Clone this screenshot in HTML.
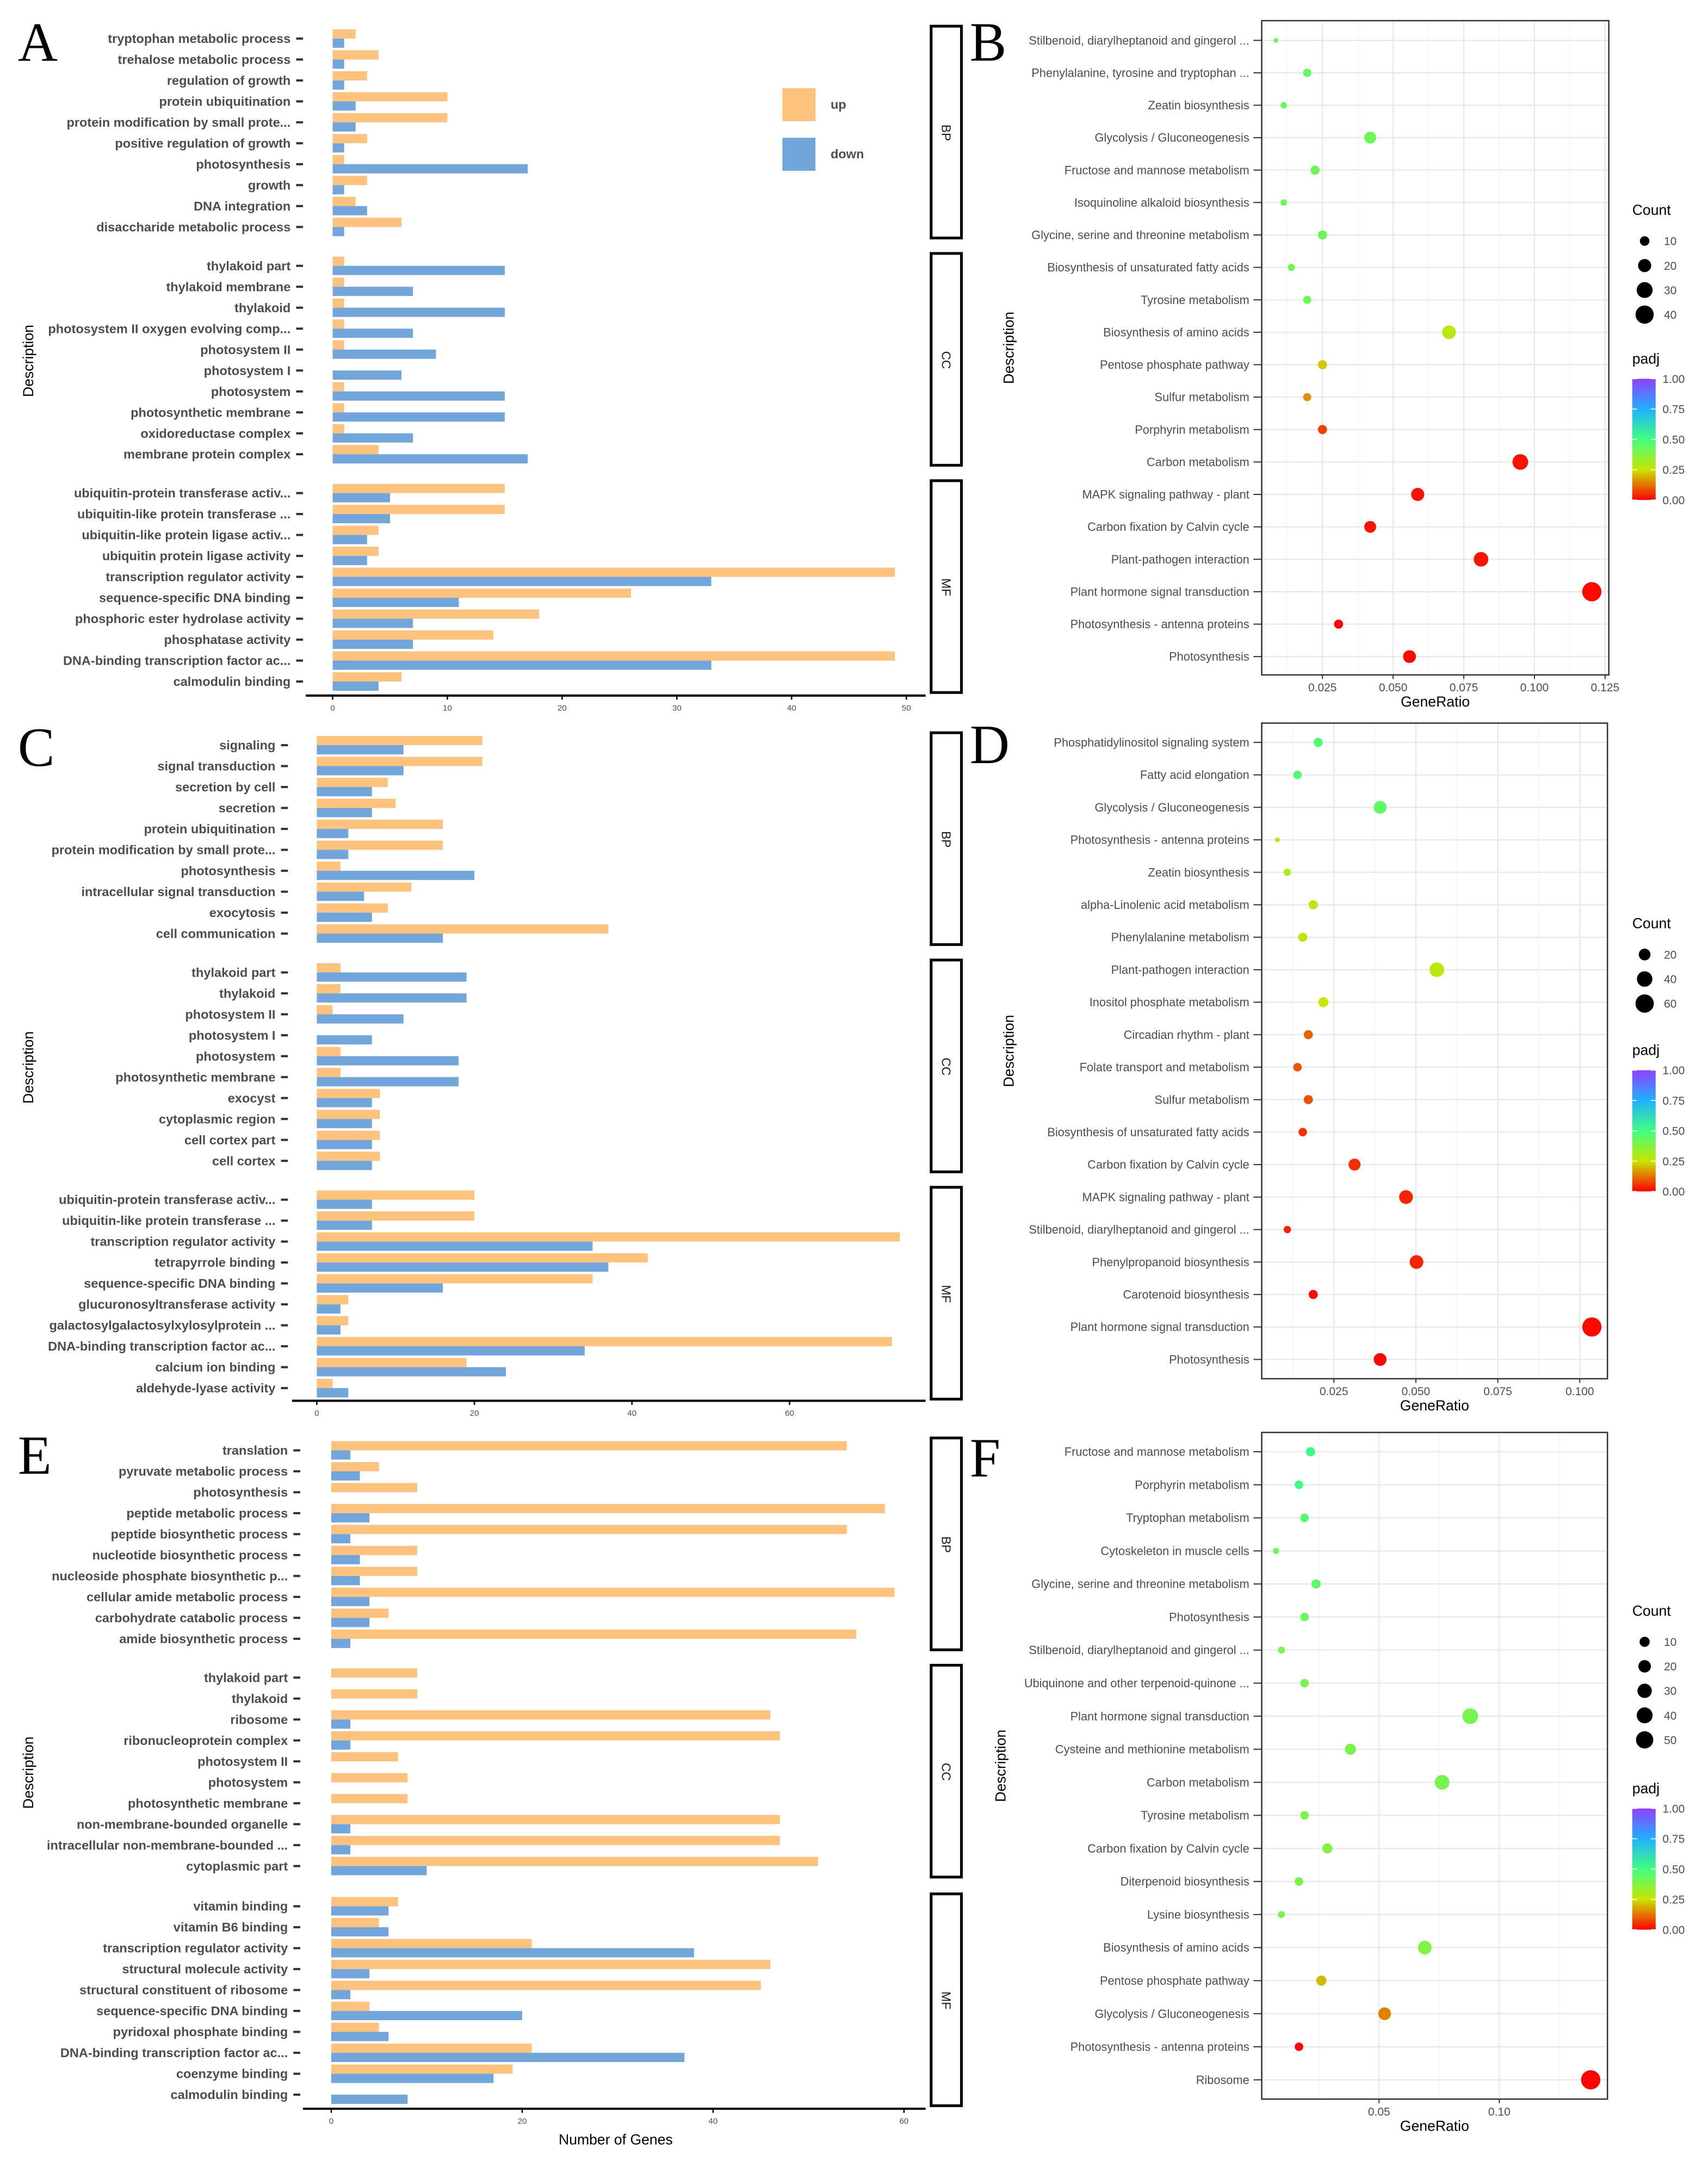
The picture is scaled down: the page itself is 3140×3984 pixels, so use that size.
<!DOCTYPE html>
<html><head><meta charset="utf-8"><title>GO and KEGG enrichment figure</title>
<style>
html,body{margin:0;padding:0;background:#fff;}
svg{display:block;}
.lbl{font-family:"Liberation Sans Narrow","Liberation Sans",sans-serif;font-weight:bold;font-size:9.3px;fill:#4d4d4d;}
.dl{font-family:"Liberation Sans",sans-serif;font-size:8.6px;fill:#4d4d4d;}
.tk{font-family:"Liberation Sans",sans-serif;font-size:6px;fill:#4d4d4d;}
.tk2{font-family:"Liberation Sans",sans-serif;font-size:8.3px;fill:#4d4d4d;}
.ttl{font-family:"Liberation Sans",sans-serif;font-size:10.5px;fill:#000;}
.let{font-family:"Liberation Serif",serif;font-size:40px;fill:#000;}
</style></head>
<body>
<svg id="fig" xmlns="http://www.w3.org/2000/svg" width="3140" height="3984" viewBox="0 0 1240 1573.3">
<defs>
<linearGradient id="padjGrad" x1="0" y1="1" x2="0" y2="0">
<stop offset="0" stop-color="#FF0000"/><stop offset="0.25" stop-color="#C8E600"/><stop offset="0.5" stop-color="#40FF80"/><stop offset="0.75" stop-color="#20B0FF"/><stop offset="1" stop-color="#9040FF"/>
</linearGradient>
</defs>
<rect x="0" y="0" width="1240" height="1573.3" fill="#fff"/>
</svg>
<script>
// ---------- Panel A data ----------
const aLabels = ["tryptophan metabolic process","trehalose metabolic process","regulation of growth","protein ubiquitination","protein modification by small prote...","positive regulation of growth","photosynthesis","growth","DNA integration","disaccharide metabolic process",
"thylakoid part","thylakoid membrane","thylakoid","photosystem II oxygen evolving comp...","photosystem II","photosystem I","photosystem","photosynthetic membrane","oxidoreductase complex","membrane protein complex",
"ubiquitin-protein transferase activ...","ubiquitin-like protein transferase ...","ubiquitin-like protein ligase activ...","ubiquitin protein ligase activity","transcription regulator activity","sequence-specific DNA binding","phosphoric ester hydrolase activity","phosphatase activity","DNA-binding transcription factor ac...","calmodulin binding"];
const aUp = [2,4,3,10,10,3,1,3,2,6, 1,1,1,1,1,0,1,1,1,4, 15,15,4,4,49,26,18,14,49,6];
const aDown = [1,1,1,2,2,1,17,1,3,1, 15,7,15,7,9,6,15,15,7,17, 5,5,3,3,33,11,7,7,33,4];
const aTicks = [0,10,20,30,40,50];
// ---------- Panel C data ----------
const cLabels = ["signaling","signal transduction","secretion by cell","secretion","protein ubiquitination","protein modification by small prote...","photosynthesis","intracellular signal transduction","exocytosis","cell communication",
"thylakoid part","thylakoid","photosystem II","photosystem I","photosystem","photosynthetic membrane","exocyst","cytoplasmic region","cell cortex part","cell cortex",
"ubiquitin-protein transferase activ...","ubiquitin-like protein transferase ...","transcription regulator activity","tetrapyrrole binding","sequence-specific DNA binding","glucuronosyltransferase activity","galactosylgalactosylxylosylprotein ...","DNA-binding transcription factor ac...","calcium ion binding","aldehyde-lyase activity"];
const cUp = [21,21,9,10,16,16,3,12,9,37, 3,3,2,0,3,3,8,8,8,8, 20,20,74,42,35,4,4,73,19,2];
const cDown = [11,11,7,7,4,4,20,6,7,16, 19,19,11,7,18,18,7,7,7,7, 7,7,35,37,16,3,3,34,24,4];
const cTicks = [0,20,40,60];
// ---------- Panel E data ----------
const eLabels = ["translation","pyruvate metabolic process","photosynthesis","peptide metabolic process","peptide biosynthetic process","nucleotide biosynthetic process","nucleoside phosphate biosynthetic p...","cellular amide metabolic process","carbohydrate catabolic process","amide biosynthetic process",
"thylakoid part","thylakoid","ribosome","ribonucleoprotein complex","photosystem II","photosystem","photosynthetic membrane","non-membrane-bounded organelle","intracellular non-membrane-bounded ...","cytoplasmic part",
"vitamin binding","vitamin B6 binding","transcription regulator activity","structural molecule activity","structural constituent of ribosome","sequence-specific DNA binding","pyridoxal phosphate binding","DNA-binding transcription factor ac...","coenzyme binding","calmodulin binding"];
const eUp = [54,5,9,58,54,9,9,59,6,55, 9,9,46,47,7,8,8,47,47,51, 7,5,21,46,45,4,5,21,19,0];
const eDown = [2,3,0,4,2,3,3,4,4,2, 0,0,2,2,0,0,0,2,2,10, 6,6,38,4,2,20,6,37,17,8];
const eTicks = [0,20,40,60];
const facetNames = ["BP","CC","MF"];
// ---------- Panel B data ----------
const bLabels = ["Stilbenoid, diarylheptanoid and gingerol ...","Phenylalanine, tyrosine and tryptophan ...","Zeatin biosynthesis","Glycolysis / Gluconeogenesis","Fructose and mannose metabolism","Isoquinoline alkaloid biosynthesis","Glycine, serine and threonine metabolism","Biosynthesis of unsaturated fatty acids","Tyrosine metabolism","Biosynthesis of amino acids","Pentose phosphate pathway","Sulfur metabolism","Porphyrin metabolism","Carbon metabolism","MAPK signaling pathway - plant","Carbon fixation by Calvin cycle","Plant-pathogen interaction","Plant hormone signal transduction","Photosynthesis - antenna proteins","Photosynthesis"];
const bRatio = [0.0085,0.0196,0.0113,0.0419,0.0224,0.0113,0.025,0.014,0.0196,0.0698,0.025,0.0196,0.025,0.095,0.0587,0.0419,0.0811,0.1203,0.0307,0.0558];
const bCount = [2,7,4,16,9,4,9,5,7,22,9,7,9,29,20,16,25,45,9,19];
const bPadj = [0.42,0.44,0.44,0.42,0.42,0.42,0.42,0.42,0.42,0.28,0.22,0.16,0.07,0.02,0.02,0.02,0.02,0.01,0.005,0.01];
const bXTicks = [0.025,0.05,0.075,0.1,0.125];
const bXTickLabels = ["0.025","0.050","0.075","0.100","0.125"];
const bLegCounts = [10,20,30,40];
// ---------- Panel D data ----------
const dLabels = ["Phosphatidylinositol signaling system","Fatty acid elongation","Glycolysis / Gluconeogenesis","Photosynthesis - antenna proteins","Zeatin biosynthesis","alpha-Linolenic acid metabolism","Phenylalanine metabolism","Plant-pathogen interaction","Inositol phosphate metabolism","Circadian rhythm - plant","Folate transport and metabolism","Sulfur metabolism","Biosynthesis of unsaturated fatty acids","Carbon fixation by Calvin cycle","MAPK signaling pathway - plant","Stilbenoid, diarylheptanoid and gingerol ...","Phenylpropanoid biosynthesis","Carotenoid biosynthesis","Plant hormone signal transduction","Photosynthesis"];
const dRatio = [0.0202,0.0139,0.0391,0.0078,0.0108,0.0187,0.0155,0.0564,0.0218,0.0172,0.0139,0.0172,0.0155,0.0313,0.047,0.0108,0.0502,0.0187,0.1037,0.0391];
const dCount = [10,8,25,1,5,10,10,35,13,10,8,10,8,21,30,5,30,10,67,25];
const dPadj = [0.47,0.47,0.45,0.3,0.3,0.28,0.28,0.27,0.25,0.11,0.09,0.09,0.05,0.05,0.04,0.04,0.04,0.015,0.01,0.005];
const dXTicks = [0.025,0.05,0.075,0.1];
const dXTickLabels = ["0.025","0.050","0.075","0.100"];
const dLegCounts = [20,40,60];
// ---------- Panel F data ----------
const fLabels = ["Fructose and mannose metabolism","Porphyrin metabolism","Tryptophan metabolism","Cytoskeleton in muscle cells","Glycine, serine and threonine metabolism","Photosynthesis","Stilbenoid, diarylheptanoid and gingerol ...","Ubiquinone and other terpenoid-quinone ...","Plant hormone signal transduction","Cysteine and methionine metabolism","Carbon metabolism","Tyrosine metabolism","Carbon fixation by Calvin cycle","Diterpenoid biosynthesis","Lysine biosynthesis","Biosynthesis of amino acids","Pentose phosphate pathway","Glycolysis / Gluconeogenesis","Photosynthesis - antenna proteins","Ribosome"];
const fRatio = [0.0215,0.0167,0.019,0.0071,0.0238,0.019,0.0094,0.019,0.0879,0.0381,0.0762,0.019,0.0285,0.0167,0.0094,0.069,0.026,0.0523,0.0167,0.138];
const fCount = [7,5,5,1,7,5,2,5,38,13,32,5,10,5,2,26,10,21,5,67];
const fPadj = [0.52,0.52,0.47,0.42,0.45,0.43,0.4,0.4,0.4,0.4,0.4,0.4,0.38,0.4,0.4,0.38,0.2,0.14,0.01,0.005];
const fXTicks = [0.05,0.1];
const fXTickLabels = ["0.05","0.10"];
const fLegCounts = [10,20,30,40,50];
const padjTicks = [0,0.25,0.5,0.75,1];
const padjTickLabels = ["0.00","0.25","0.50","0.75","1.00"];

const NS = "http://www.w3.org/2000/svg";
const svg = document.getElementById("fig");
function mk(tag, attrs, parent, txt){
  const e = document.createElementNS(NS, tag);
  for (const k in attrs) e.setAttribute(k, attrs[k]);
  if (txt !== undefined) e.textContent = txt;
  (parent || svg).appendChild(e);
  return e;
}
function grp(name){
  const g = mk("g", {});
  
  
  return g;
}
const UPC = "#FDC27D", DNC = "#72A5DA";

function barPanel(pname, L, labels, up, down, ticks){
  const g = grp(pname);
  const xs = v => L.x0 + v * L.unit;
  for (let f = 0; f < 3; f++) {
    const first = L.firsts[f];
    const last = first + 9 * L.pitch;
    const strip = mk("rect", {x:676, y:first-9, width:22, height:(last+8)-(first-9), fill:"#fff", stroke:"#000", "stroke-width":2}, g);
    
    
    const st = mk("text", {x:687, y:(first+last)/2, transform:"rotate(90 687 " + ((first+last)/2) + ")", "text-anchor":"middle", "dominant-baseline":"central", style:"font-family:'Liberation Sans',sans-serif;font-size:9px;fill:#1a1a1a"}, g, facetNames[f]);
    
    
    for (let i = 0; i < 10; i++) {
      const idx = f * 10 + i;
      const y = first + i * L.pitch;
      const t = mk("text", {x:L.labelX, y:y+3.2, "text-anchor":"end", class:"lbl"}, g, labels[idx]);
      
      
      const tm = mk("line", {x1:L.labelX+4, x2:L.labelX+9, y1:y, y2:y, stroke:"#333", "stroke-width":1.6}, g);
      
      
      if (up[idx] > 0) {
        const r = mk("rect", {x:xs(0), y:y-6.7, width:xs(up[idx])-xs(0), height:6.7, fill:UPC}, g);
        
        
      }
      if (down[idx] > 0) {
        const r2 = mk("rect", {x:xs(0), y:y, width:xs(down[idx])-xs(0), height:6.7, fill:DNC}, g);
        
        
      }
    }
  }
  const ax = mk("line", {x1:L.axisX1, x2:672, y1:L.axisY, y2:L.axisY, stroke:"#000", "stroke-width":1.6}, g);
  
  
  ticks.forEach(v => {
    const tl = mk("line", {x1:xs(v), x2:xs(v), y1:L.axisY, y2:L.axisY+3, stroke:"#000", "stroke-width":1}, g);
    
    
    const tt = mk("text", {x:xs(v), y:L.axisY+11, "text-anchor":"middle", class:"tk"}, g, String(v));
    
    
  });
  const d = mk("text", {x:24, y:L.descY, transform:"rotate(-90 24 " + L.descY + ")", "text-anchor":"middle", class:"ttl"}, g, "Description");
  
  
  const le = mk("text", {x:13, y:L.letterY, class:"let"}, g, L.letter);
  
  
  return g;
}

const gA = barPanel("panel-a-go-bar-chart", {x0:241.5, unit:8.33, firsts:[28,193,358], pitch:15.2, labelX:211, axisY:505, axisX1:222, descY:262, letter:"A", letterY:44}, aLabels, aUp, aDown, aTicks);
barPanel("panel-c-go-bar-chart", {x0:230, unit:5.72, firsts:[541,706,871], pitch:15.2, labelX:200, axisY:1017, axisX1:212, descY:775, letter:"C", letterY:556}, cLabels, cUp, cDown, cTicks);
const gE = barPanel("panel-e-go-bar-chart", {x0:240.5, unit:6.93, firsts:[1053,1218,1384], pitch:15.2, labelX:209, axisY:1531, axisX1:220, descY:1287, letter:"E", letterY:1070}, eLabels, eUp, eDown, eTicks);

// Bar legend (panel A)
const lu = mk("rect", {x:568, y:64, width:24, height:24, fill:UPC}, gA);


const lut = mk("text", {x:603, y:79, class:"lbl", "font-weight":"normal", "font-size":"9"}, gA, "up");


const ld = mk("rect", {x:568, y:100, width:24, height:24, fill:DNC}, gA);


const ldt = mk("text", {x:603, y:115, class:"lbl", "font-weight":"normal", "font-size":"9"}, gA, "down");


const xtE = mk("text", {x:447, y:1557, "text-anchor":"middle", class:"ttl"}, gE, "Number of Genes");



// ---------- dot plots ----------
const stopsC = [[0,[255,0,0]],[0.25,[200,230,0]],[0.5,[64,255,128]],[0.75,[32,176,255]],[1,[144,64,255]]];
function padjColor(p){
  for (let i = 0; i < stopsC.length - 1; i++) {
    const a = stopsC[i], b = stopsC[i+1];
    if (p <= b[0]) {
      const t = (p - a[0]) / (b[0] - a[0]);
      const c = a[1].map((v,k) => Math.round(v + (b[1][k] - v) * t));
      return "rgb(" + c.join(",") + ")";
    }
  }
  return "rgb(144,64,255)";
}
function dotPanel(pname, L, labels, ratio, count, padj, xt, xtl, legCounts){
  const g = grp(pname);
  const xs = v => L.zeroX + v / L.step * L.stepPx;
  const ys = i => L.firstY + i * (L.lastY - L.firstY) / (labels.length - 1);
  const rs = c => L.rA + L.rB * Math.sqrt(c);
  const bg = mk("rect", {x:L.left, y:L.top, width:L.right-L.left, height:L.bottom-L.top, fill:"#fff"}, g);
  
  
  const minorStep = L.step / 2;
  for (let v = minorStep; xs(v) < L.right; v += L.step) {
    if (xs(v) > L.left) {
      const ml = mk("line", {x1:xs(v), x2:xs(v), y1:L.top, y2:L.bottom, stroke:"#f3f3f3", "stroke-width":0.5}, g);
      
      
    }
  }
  xt.forEach(v => {
    const gl = mk("line", {x1:xs(v), x2:xs(v), y1:L.top, y2:L.bottom, stroke:"#e8e8e8", "stroke-width":0.9}, g);
    
    
  });
  labels.forEach((lab, i) => {
    const y = ys(i);
    const hl = mk("line", {x1:L.left, x2:L.right, y1:y, y2:y, stroke:"#e8e8e8", "stroke-width":0.9}, g);
    
    
    const t = mk("text", {x:L.left-9, y:y+3, "text-anchor":"end", class:"dl"}, g, lab);
    
    
    const tm = mk("line", {x1:L.left-6, x2:L.left, y1:y, y2:y, stroke:"#333", "stroke-width":0.8}, g);
    
    
  });
  labels.forEach((lab, i) => {
    const c = mk("circle", {cx:xs(ratio[i]), cy:ys(i), r:rs(count[i]), fill:padjColor(padj[i])}, g);
    
    
  });
  const box = mk("rect", {x:L.left, y:L.top, width:L.right-L.left, height:L.bottom-L.top, fill:"none", stroke:"#333", "stroke-width":1}, g);
  
  
  xt.forEach((v, k) => {
    const tl = mk("line", {x1:xs(v), x2:xs(v), y1:L.bottom, y2:L.bottom+3, stroke:"#333", "stroke-width":0.8}, g);
    
    
    const tt = mk("text", {x:xs(v), y:L.bottom+12, "text-anchor":"middle", class:"tk2"}, g, xtl[k]);
    
    
  });
  const xtit = mk("text", {x:(L.left+L.right)/2, y:L.bottom+23, "text-anchor":"middle", class:"ttl"}, g, "GeneRatio");
  
  
  const dy = (L.top + L.bottom) / 2;
  const yt = mk("text", {x:L.descX, y:dy, transform:"rotate(-90 " + L.descX + " " + dy + ")", "text-anchor":"middle", class:"ttl"}, g, "Description");
  
  
  const le = mk("text", {x:704, y:L.letterY, class:"let"}, g, L.letter);
  
  
  const ct = mk("text", {x:1185, y:L.countY, class:"ttl"}, g, "Count");
  
  
  legCounts.forEach((c, k) => {
    const y = L.countY + 19 + k * 17.8;
    const lc = mk("circle", {cx:1194, cy:y, r:rs(c), fill:"#000"}, g);
    
    
    const lt = mk("text", {x:1208, y:y+3, class:"tk2"}, g, String(c));
    
    
  });
  const pt = mk("text", {x:1185, y:L.padjY, class:"ttl"}, g, "padj");
  
  
  const cbTop = L.padjY + 11, cbH = 88;
  const cb = mk("rect", {x:1185, y:cbTop, width:17, height:cbH, fill:"url(#padjGrad)"}, g);
  
  
  padjTicks.forEach((v, k) => {
    const y = cbTop + cbH - v * cbH;
    const a1 = mk("line", {x1:1185, x2:1188.5, y1:y, y2:y, stroke:"#fff", "stroke-width":0.6}, g);
    
    
    const a2 = mk("line", {x1:1198.5, x2:1202, y1:y, y2:y, stroke:"#fff", "stroke-width":0.6}, g);
    
    
    const lt = mk("text", {x:1207, y:y+3, class:"tk2"}, g, padjTickLabels[k]);
    
    
  });
}

dotPanel("panel-b-kegg-dot-plot", {left:916, right:1168, top:15, bottom:490, firstY:29.3, lastY:476.7, zeroX:908.8, step:0.025, stepPx:51.3, rA:0.3, rB:1.0, descX:736, letter:"B", letterY:44, countY:156, padjY:264}, bLabels, bRatio, bCount, bPadj, bXTicks, bXTickLabels, bLegCounts);
dotPanel("panel-d-kegg-dot-plot", {left:916, right:1167, top:525, bottom:1001, firstY:539, lastY:987, zeroX:908.9, step:0.025, stepPx:59.5, rA:1.0, rB:0.73, descX:736, letter:"D", letterY:554, countY:674, padjY:766}, dLabels, dRatio, dCount, dPadj, dXTicks, dXTickLabels, dLegCounts);
dotPanel("panel-f-kegg-dot-plot", {left:916, right:1167, top:1040, bottom:1524, firstY:1054, lastY:1510, zeroX:913.9, step:0.05, stepPx:87.3, rA:1.6, rB:0.66, descX:730, letter:"F", letterY:1072, countY:1173, padjY:1302}, fLabels, fRatio, fCount, fPadj, fXTicks, fXTickLabels, fLegCounts);
</script>
</body></html>
